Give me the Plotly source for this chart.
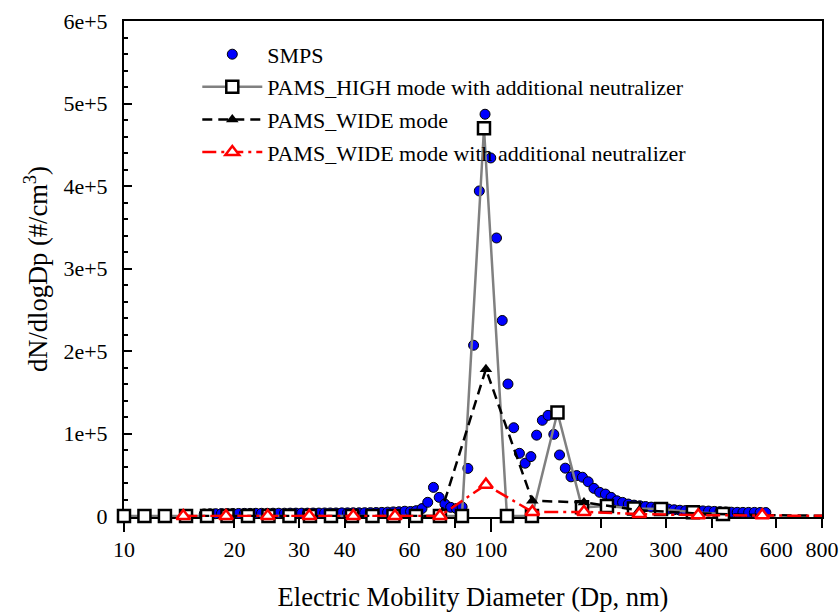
import plotly.graph_objects as go

# ---------------- data ----------------
smps_dp = [16.548, 17.154, 17.783, 18.434, 19.110, 19.810, 20.535, 21.288, 22.067, 22.876,
           23.714, 24.582, 25.483, 26.416, 27.384, 28.387, 29.427, 30.505, 31.623, 32.781,
           33.982, 35.227, 36.517, 37.855, 39.242, 40.679, 42.170, 43.714, 45.316, 46.976,
           48.697, 50.480, 52.330, 54.247, 56.234, 58.294, 60.430, 62.643, 64.938, 67.317,
           69.783, 72.339, 74.989, 77.736, 80.584, 83.536, 86.596, 89.768, 93.057, 96.466,
           100.0, 103.66, 107.46, 111.40, 115.48, 119.71, 124.09, 128.64, 133.35, 138.24,
           143.30, 148.55, 153.99, 159.63, 165.48, 171.54, 177.83, 184.34, 191.10, 198.10,
           205.35, 212.88, 220.67, 228.76, 237.14, 245.82, 254.83, 264.16, 273.84, 283.87,
           294.27, 305.05, 316.23, 327.81, 339.82, 352.27, 365.17, 378.55, 392.42, 406.79,
           421.70, 437.14, 453.16, 469.76, 486.97, 504.80, 523.30, 542.47, 562.34]
smps_dn = [2500, 2700, 2800, 2900, 3000, 3100, 3100, 3200, 3200, 3300,
           3300, 3300, 3400, 3400, 3400, 3500, 3500, 3500, 3500, 3600,
           3600, 3700, 3700, 3700, 3800, 3800, 3900, 3900, 4000, 4100,
           4200, 4400, 4700, 5000, 5200, 5800, 5500, 6500, 9000, 16600,
           34700, 22600, 14500, 10500, 9000, 11000, 57700, 207000, 394000, 487000,
           434000, 337000, 237000, 160000, 107000, 76000, 64000, 72000, 98000, 116000,
           122000, 99000, 74000, 58000, 47500, 49000, 47000, 41500, 33500, 28700,
           26600, 22600, 18500, 16500, 14500, 13200, 12400, 11500, 10800, 10400,
           9500, 8500, 7600, 7000, 6600, 6400, 6300, 6200, 6000, 5600,
           5200, 4900, 4600, 4500, 4400, 4400, 4400, 4300, 4200]

high_dp = [10.0, 11.37, 12.93, 14.76, 16.84, 19.15, 21.78, 24.77, 28.26, 32.14,
           36.67, 41.83, 47.58, 54.29, 62.52, 72.68, 83.45, 95.83, 110.7, 129.5,
           152.0, 177.3, 207.4, 245.7, 291.1, 355.8, 429.6]
high_dn = [0, 0, 0, 0, 0, 0, 0, 0, 0, 0,
           0, 0, 0, 0, 0, 0, 0, 470000, 0, 0,
           125500, 10500, 12000, 9000, 8500, 4500, 2400]

wide_dp = [14.51, 18.97, 24.65, 32.01, 42.19, 54.81, 72.68, 97.0, 129.8, 179.5,
           254.1, 367.9, 549.8, 1000.0]
wide_dn = [0, 0, 0, 0, 0, 0, 0, 178000, 18500, 16500, 7000, 3000, 1000, 0]
wide_neut_dn = [0, 0, 0, 0, 0, 0, 0, 38000, 5000, 5000, 2400, 1000, 1000, 0]

x_tick_vals = [10, 20, 30, 40, 60, 80, 100, 200, 300, 400, 600, 800]
x_tick_text = ["10", "20", "30", "40", "60", "80", "100", "200", "300", "400", "600", "800"]
y_tick_vals = [0, 100000, 200000, 300000, 400000, 500000, 600000]
y_tick_text = ["0", "1e+5", "2e+5", "3e+5", "4e+5", "5e+5", "6e+5"]

FONT = "Liberation Serif"

fig = go.Figure()
fig.add_trace(go.Scatter(
    x=smps_dp, y=smps_dn, mode="markers", name="SMPS", legendgroup="a",
    marker=dict(symbol="circle", size=10, color="#0000ff", line=dict(color="black", width=1)),
    cliponaxis=False))
fig.add_trace(go.Scatter(
    x=high_dp, y=high_dn, mode="lines+markers",
    name="PAMS_HIGH mode with additional neutralizer", legendgroup="b",
    line=dict(color="#808080", width=2.5),
    marker=dict(symbol="square", size=12, color="white", line=dict(color="black", width=2.5)),
    cliponaxis=False))
fig.add_trace(go.Scatter(
    x=wide_dp, y=wide_dn, mode="lines+markers", name="PAMS_WIDE mode", legendgroup="c",
    line=dict(color="black", width=2.5, dash="10px,6px"),
    marker=dict(symbol="triangle-up", size=11, color="black"),
    cliponaxis=False))
fig.add_trace(go.Scatter(
    x=wide_dp, y=wide_neut_dn, mode="lines+markers",
    name="PAMS_WIDE mode with additional neutralizer", legendgroup="d",
    line=dict(color="red", width=2.5, dash="14px,5px,3px,5px"),
    marker=dict(symbol="triangle-up", size=12, color="white", line=dict(color="red", width=2.5)),
    cliponaxis=False))

fig.update_layout(
    width=839, height=615,
    margin=dict(l=124, r=17, t=21, b=98),
    paper_bgcolor="white", plot_bgcolor="white",
    font=dict(family=FONT, size=22, color="black"),
    showlegend=True,
    legend=dict(x=0.105, y=0.975, xanchor="left", yanchor="top",
                bgcolor="rgba(0,0,0,0)", font=dict(family=FONT, size=22),
                itemwidth=60, traceorder="grouped", tracegroupgap=1),
    xaxis=dict(type="log", range=[1, 2.90309], tickmode="array",
               tickvals=x_tick_vals, ticktext=x_tick_text,
               ticks="outside", ticklen=9, tickwidth=2, tickcolor="black",
               minor=dict(tickmode="array", tickvals=[10, 100], ticks="outside",
                          ticklen=13, tickwidth=2, tickcolor="black"),
               showline=True, linecolor="black", linewidth=2, mirror=True,
               showgrid=False, zeroline=False, layer="below traces",
               tickfont=dict(family=FONT, size=22), ticklabelstandoff=3,
               title=dict(text="Electric Mobility Diameter (Dp, nm)",
                          font=dict(family=FONT, size=26.5), standoff=26),
               automargin=False),
    yaxis=dict(range=[-1200, 600000], tickmode="array",
               tickvals=y_tick_vals, ticktext=y_tick_text,
               ticks="inside", ticklen=8, tickwidth=2, tickcolor="black",
               minor=dict(tickmode="linear", tick0=0, dtick=20000, ticks="inside",
                          ticklen=4, tickwidth=1.5, tickcolor="black"),
               showline=True, linecolor="black", linewidth=2, mirror=True,
               showgrid=False, zeroline=False, layer="below traces",
               tickfont=dict(family=FONT, size=22), ticklabelstandoff=10,
               title=dict(text="dN/dlogDp (#/cm<sup>3</sup>)",
                          font=dict(family=FONT, size=26.5), standoff=8),
               automargin=False),
)

fig.write_html("out.html")
